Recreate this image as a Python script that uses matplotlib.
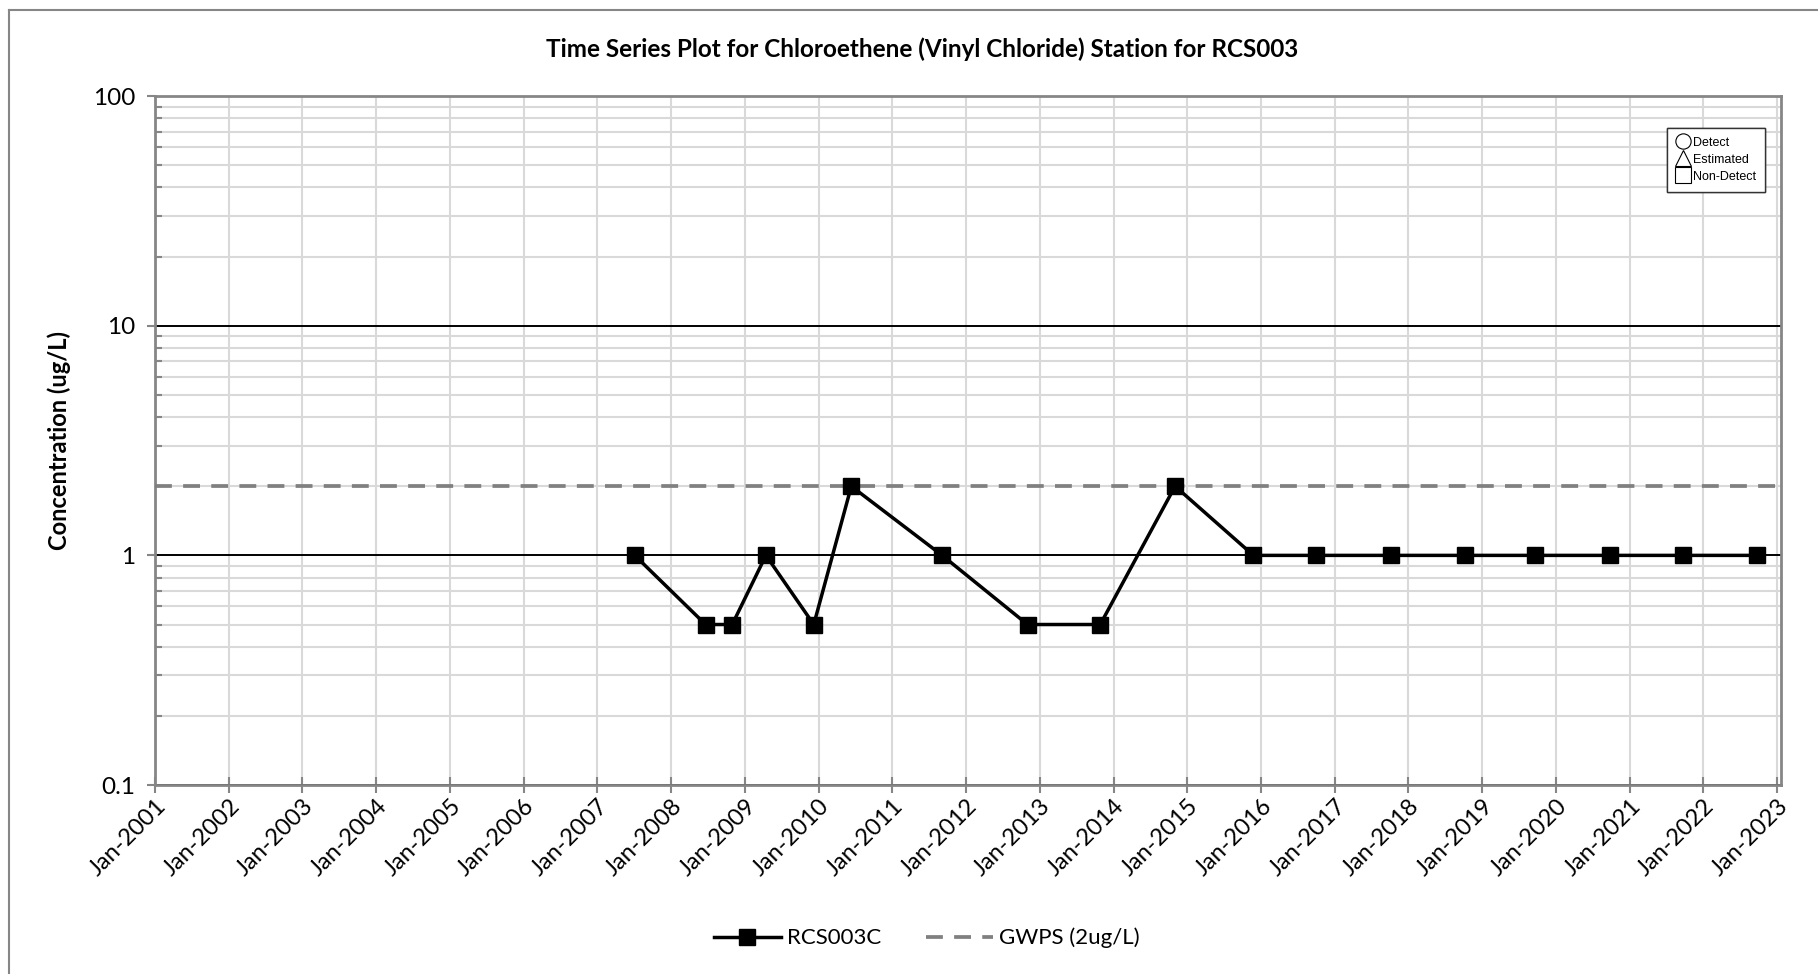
import numpy as np
import pandas as pd
import matplotlib
matplotlib.use("Agg")
import matplotlib.pyplot as plt
import matplotlib.dates as mdates
from matplotlib.lines import Line2D
from matplotlib.ticker import FixedLocator, FixedFormatter, LogLocator, NullFormatter

# ===== data =====
sample_dates = [
    "2007-07-05", "2008-06-20", "2008-10-30", "2009-04-15", "2009-12-08",
    "2010-06-12", "2011-09-05", "2012-11-01", "2013-10-27", "2014-11-02",
    "2015-11-25", "2016-10-01", "2017-10-08", "2018-10-08", "2019-09-20",
    "2020-09-27", "2021-09-20", "2022-09-24",
]
rcs003c = [1, 0.5, 0.5, 1, 0.5, 2, 1, 0.5, 0.5, 2,
           1, 1, 1, 1, 1, 1, 1, 1]
gwps = 2.0
year_ticks = list(range(2001, 2024))
y_major = [0.1, 1, 10, 100]
y_major_labels = ["0.1", "1", "10", "100"]

title = "Time Series Plot for Chloroethene (Vinyl Chloride) Station for RCS003"

GRID = "#d9d9d9"
AXIS = "#868686"

plt.rcParams["font.family"] = ["Lato", "DejaVu Sans"]

dates = pd.to_datetime(sample_dates)
tick_dates = pd.to_datetime([f"{y}-01-01" for y in year_ticks])

fig = plt.figure(figsize=(18.18, 9.74), dpi=100)
ax = fig.add_axes([0.0853, 0.194, 0.8943, 0.7074])

ax.set_yscale("log")
ax.set_ylim(0.1, 100)
ax.set_xlim(pd.Timestamp("2001-01-01"), pd.Timestamp("2023-01-20"))

# grid
ax.set_xticks(tick_dates)
ax.xaxis.set_major_formatter(mdates.DateFormatter("%b-%Y"))
ax.yaxis.set_major_locator(FixedLocator(y_major))
ax.yaxis.set_major_formatter(FixedFormatter(y_major_labels))
ax.yaxis.set_minor_locator(LogLocator(base=10, subs=np.arange(2, 10), numticks=20))
ax.yaxis.set_minor_formatter(NullFormatter())
ax.grid(True, which="major", axis="x", color=GRID, lw=1.5, zorder=0)
ax.grid(True, which="minor", axis="y", color=GRID, lw=1.5, zorder=0)
ax.grid(True, which="major", axis="y", color="black", lw=1.4, zorder=1)
ax.set_axisbelow(True)

for s in ax.spines.values():
    s.set_color(AXIS)
    s.set_linewidth(2.0)

ax.tick_params(axis="x", which="major", direction="inout", length=11, width=1.5,
               color=AXIS, labelsize=17, pad=2)
ax.tick_params(axis="y", which="major", direction="out", length=6, width=1.5,
               color=AXIS, labelsize=17.5, pad=8)
ax.tick_params(axis="y", which="minor", direction="in", length=5, width=1.5,
               color=AXIS)
for lbl in ax.get_xticklabels():
    lbl.set_rotation(45)
    lbl.set_ha("right")
    lbl.set_rotation_mode("anchor")

# series
gw_line, = ax.plot([tick_dates[0], pd.Timestamp("2023-01-20")], [gwps, gwps],
                   color="#808080", lw=2.7, dashes=(4.5, 3), zorder=3,
                   label="GWPS (2ug/L)")
data_line, = ax.plot(dates, rcs003c, color="black", lw=2.5, marker="s",
                     markersize=12, zorder=4, label="RCS003C")

ax.set_ylabel("Concentration (ug/L)", fontsize=17, fontweight="bold")
ax.yaxis.set_label_coords(-0.052, 0.5)
fig.text(0.507, 1 - 49 / 974, title, ha="center", va="center",
         fontsize=17.5, fontweight="bold")

# symbol key box
key_handles = [
    Line2D([], [], ls="none", marker="o", mfc="white", mec="black", ms=11, mew=0.8),
    Line2D([], [], ls="none", marker="^", mfc="white", mec="black", ms=11, mew=0.8),
    Line2D([], [], ls="none", marker="s", mfc="white", mec="black", ms=11, mew=0.8),
]
key = ax.legend(key_handles, ["Detect", "Estimated", "Non-Detect"],
                loc="upper left", bbox_to_anchor=(1667 / 1818, 1 - 128 / 974),
                bbox_transform=fig.transFigure, fancybox=False, framealpha=1,
                edgecolor="#333333", prop={"family": "Liberation Sans", "size": 9},
                handlelength=1.1, handletextpad=0.3, labelspacing=0.4,
                borderpad=0.7, borderaxespad=0)
key.get_frame().set_linewidth(1.0)
ax.add_artist(key)

fig.legend([data_line, gw_line], ["RCS003C", "GWPS (2ug/L)"],
           loc="center", bbox_to_anchor=(927 / 1818, 1 - 938 / 974),
           ncol=2, frameon=False, fontsize=16, handlelength=3.0,
           columnspacing=2.0, handletextpad=0.3)

# outer chart border (top and left visible)
fig.add_artist(Line2D([9 / 1818, 9 / 1818], [0, 1 - 10 / 974], color=AXIS, lw=1.5,
                      transform=fig.transFigure))
fig.add_artist(Line2D([9 / 1818, 1], [1 - 10 / 974, 1 - 10 / 974], color=AXIS, lw=1.5,
                      transform=fig.transFigure))

fig.savefig("out.png", dpi=100)
